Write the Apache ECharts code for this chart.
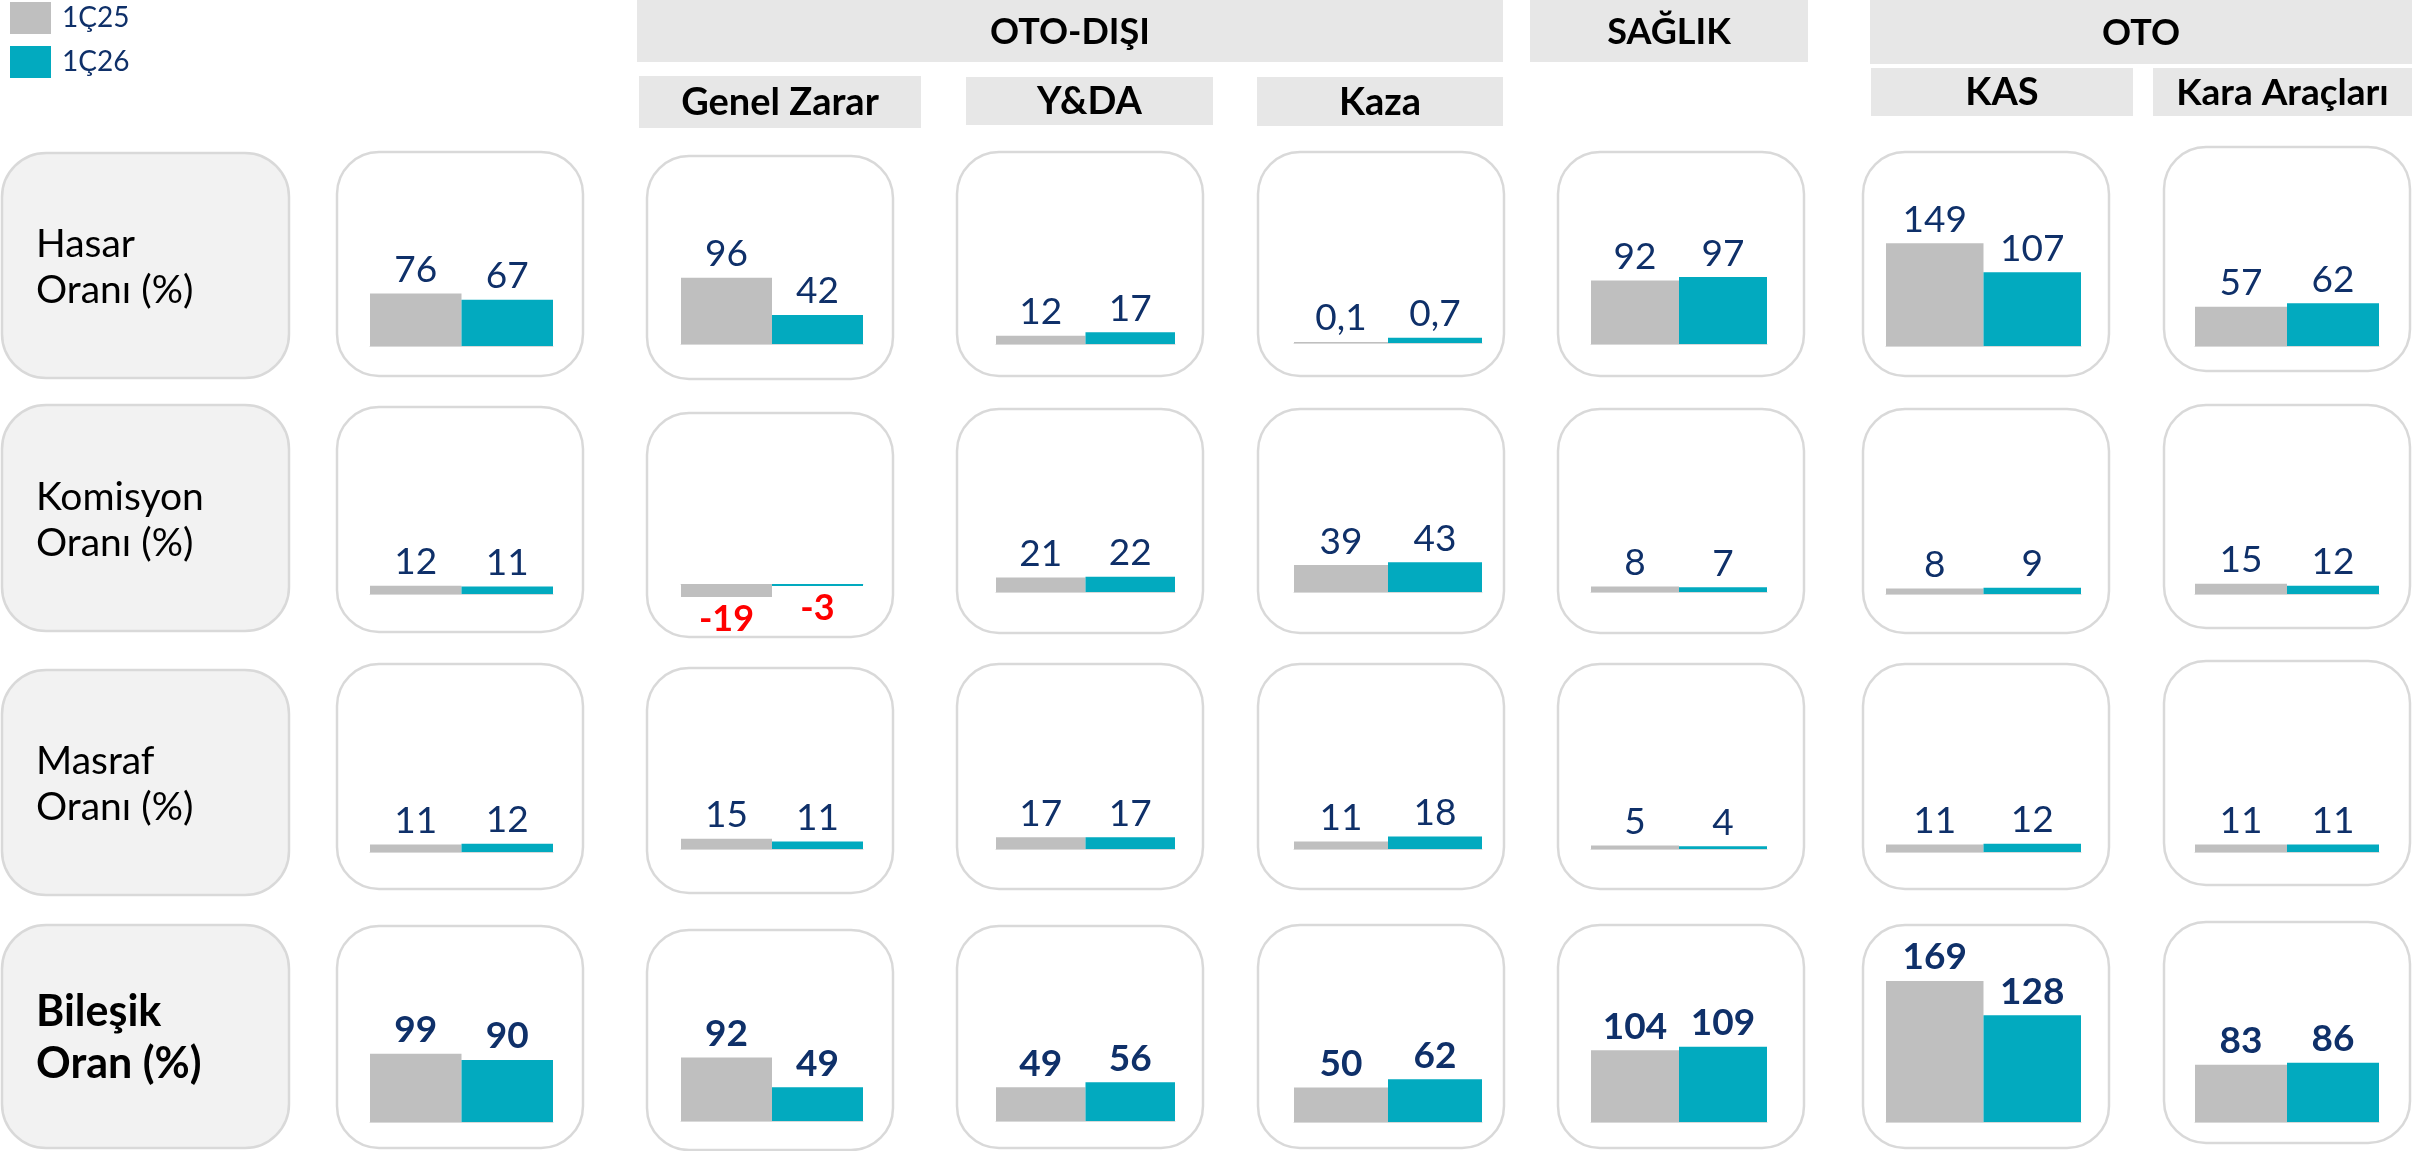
<!DOCTYPE html>
<html>
<head>
<meta charset="utf-8">
<script src="https://cdn.jsdelivr.net/npm/echarts@6/dist/echarts.min.js"></script>
<style>
  html, body { margin: 0; padding: 0; background: #ffffff; }
  #chart { width: 2412px; height: 1151px; }
</style>
</head>
<body>
<div id="chart"></div>
<script>
// ---- data ----
const periods = ['1Ç25', '1Ç26'];
const segments = ['Toplam', 'Genel Zarar', 'Y&DA', 'Kaza', 'SAĞLIK', 'KAS', 'Kara Araçları'];
const rowLabels = ['Hasar\nOranı (%)', 'Komisyon\nOranı (%)', 'Masraf\nOranı (%)', 'Bileşik\nOran (%)'];

const hasar25    = [76, 96, 12, 0.1, 92, 149, 57];
const hasar26    = [67, 42, 17, 0.7, 97, 107, 62];
const komisyon25 = [12, -19, 21, 39, 8, 8, 15];
const komisyon26 = [11, -3, 22, 43, 7, 9, 12];
const masraf25   = [11, 15, 17, 11, 5, 11, 11];
const masraf26   = [12, 11, 17, 18, 4, 12, 11];
const bilesik25  = [99, 92, 49, 50, 104, 169, 83];
const bilesik26  = [90, 49, 56, 62, 109, 128, 86];

const rows25 = [hasar25, komisyon25, masraf25, bilesik25];
const rows26 = [hasar26, komisyon26, masraf26, bilesik26];

// ---- layout ----
const GRAY = '#BFBFBF';
const TEAL = '#02AABF';
const NAVY = '#0F3069';
const FONT = 'Lato, "Noto Sans", sans-serif';

const labelCardX = [2, 289];
const cardX = [[337, 583], [647, 893], [957, 1203], [1258, 1504], [1558, 1804], [1863, 2109], [2164, 2410]];
const barX  = [[370, 553], [681, 863], [996, 1175], [1294, 1482], [1591, 1767], [1886, 2081], [2195, 2379]];

const cardTop = [
  [152, 156, 152, 152, 152, 152, 147],
  [407, 413, 409, 409, 409, 409, 405],
  [664, 668, 664, 664, 664, 664, 661],
  [926, 930, 926, 925, 925, 925, 922]
];
const cardBottom = [
  [376, 379, 376, 376, 376, 376, 371],
  [632, 637, 633, 633, 633, 633, 628],
  [889, 893, 889, 889, 889, 889, 885],
  [1148, 1150, 1148, 1148, 1148, 1148, 1143]
];
const labelCardY = [[153, 378], [405, 631], [670, 895], [925, 1148]];
const baseline = [
  [346, 344, 344, 343, 344, 346, 346],
  [594, 584, 592, 592, 592, 594, 594],
  [852, 849, 849, 849, 849, 852, 852],
  [1122, 1121, 1121, 1122, 1122, 1122, 1122]
];
// pixels per percentage point in each small chart
const pxPerUnit = [
  [0.69, 0.69, 0.69, 7.5, 0.69, 0.69, 0.69],
  [0.69, 0.69, 0.69, 0.69, 0.69, 0.69, 0.69],
  [0.69, 0.69, 0.69, 0.69, 0.69, 0.69, 0.69],
  [0.69, 0.69, 0.69, 0.69, 0.69, 0.834, 0.69]
];

const headerBoxes = [
  { text: 'OTO-DIŞI', x: 637, y: 0, w: 866, h: 62, size: 36 },
  { text: 'Genel Zarar', x: 639, y: 76, w: 282, h: 52, size: 38 },
  { text: 'Y&DA', x: 966, y: 77, w: 247, h: 48, size: 38 },
  { text: 'Kaza', x: 1257, y: 77, w: 246, h: 49, size: 38 },
  { text: 'SAĞLIK', x: 1530, y: 0, w: 278, h: 62, size: 36 },
  { text: 'OTO', x: 1870, y: 0, w: 542, h: 64, size: 36 },
  { text: 'KAS', x: 1871, y: 68, w: 262, h: 48, size: 38 },
  { text: 'Kara Araçları', x: 2153, y: 68, w: 259, h: 48, size: 37 }
];

// ---- build ----
const graphics = [];
headerBoxes.forEach(b => {
  graphics.push({ type: 'rect', z: 0, shape: { x: b.x, y: b.y, width: b.w, height: b.h }, style: { fill: '#E7E7E7' } });
  graphics.push({ type: 'text', z: 1, x: b.x + b.w / 2, y: b.y + b.h / 2 + 1,
    style: { text: b.text, fontSize: b.size, fontWeight: 'bold', fontFamily: FONT, fill: '#000', align: 'center', verticalAlign: 'middle' } });
});

rowLabels.forEach((t, r) => {
  const [y0, y1] = labelCardY[r];
  graphics.push({ type: 'rect', z: 0, shape: { x: labelCardX[0], y: y0, width: labelCardX[1] - labelCardX[0], height: y1 - y0, r: 44 },
    style: { fill: '#F2F2F2', stroke: '#D9D9D9', lineWidth: 2.5 } });
  const bold = r === 3;
  graphics.push({ type: 'text', z: 1, x: 36, y: (y0 + y1) / 2 + 2,
    style: { text: t, fontSize: bold ? 43 : 39, lineHeight: bold ? 52 : 46, fontWeight: bold ? 'bold' : 'normal', fontFamily: FONT,
      fill: '#000', align: 'left', verticalAlign: 'middle' } });
});

const grids = [], xAxes = [], yAxes = [], series = [];
function fmt(v) { return String(v).replace('.', ','); }

rowLabels.forEach((_, r) => {
  cardX.forEach((cx, c) => {
    const top = cardTop[r][c], bottom = cardBottom[r][c];
    graphics.push({ type: 'rect', z: 0, shape: { x: cx[0], y: top, width: cx[1] - cx[0], height: bottom - top, r: 42 },
      style: { fill: '#FFFFFF', stroke: '#D9D9D9', lineWidth: 2.5 } });

    const gTop = top + 6, gBottom = bottom - 6;
    const base = baseline[r][c], s = pxPerUnit[r][c];
    const idx = grids.length;
    grids.push({ left: barX[c][0], width: barX[c][1] - barX[c][0], top: gTop, height: gBottom - gTop, containLabel: false });
    xAxes.push({ type: 'category', gridIndex: idx, data: [segments[c]], show: true,
      axisLine: { show: true, onZero: true, lineStyle: { color: '#D9D9D9', width: 1 } },
      axisTick: { show: false }, axisLabel: { show: false }, splitLine: { show: false } });
    yAxes.push({ type: 'value', gridIndex: idx, show: false,
      min: -(gBottom - base) / s, max: (base - gTop) / s, splitLine: { show: false } });

    [rows25, rows26].forEach((src, k) => {
      const v = src[r][c];
      const neg = v < 0;
      series.push({
        type: 'bar', name: periods[k], xAxisIndex: idx, yAxisIndex: idx,
        barGap: '0%', barCategoryGap: '0%', barMinHeight: 1,
        itemStyle: { color: k === 0 ? GRAY : TEAL },
        animation: false,
        data: [{
          value: v,
          label: {
            show: true, position: neg ? 'bottom' : 'top', distance: neg ? 4 : 5,
            formatter: p => fmt(p.value),
            fontFamily: FONT, fontSize: neg ? 36 : 37,
            fontWeight: (neg || r === 3) ? 'bold' : 'normal',
            color: neg ? '#FF0000' : NAVY
          }
        }]
      });
    });
  });
});

const chart = echarts.init(document.getElementById('chart'), null, { renderer: 'canvas' });
chart.setOption({
  backgroundColor: '#FFFFFF',
  animation: false,
  legend: {
    data: periods, orient: 'vertical', left: 10, top: 2, padding: 0,
    icon: 'rect', itemWidth: 41, itemHeight: 32, itemGap: 12,
    selectedMode: false,
    textStyle: { fontFamily: FONT, fontSize: 28, color: NAVY, padding: [0, 0, 0, 6] }
  },
  grid: grids, xAxis: xAxes, yAxis: yAxes, series: series,
  graphic: graphics
});
</script>
</body>
</html>
